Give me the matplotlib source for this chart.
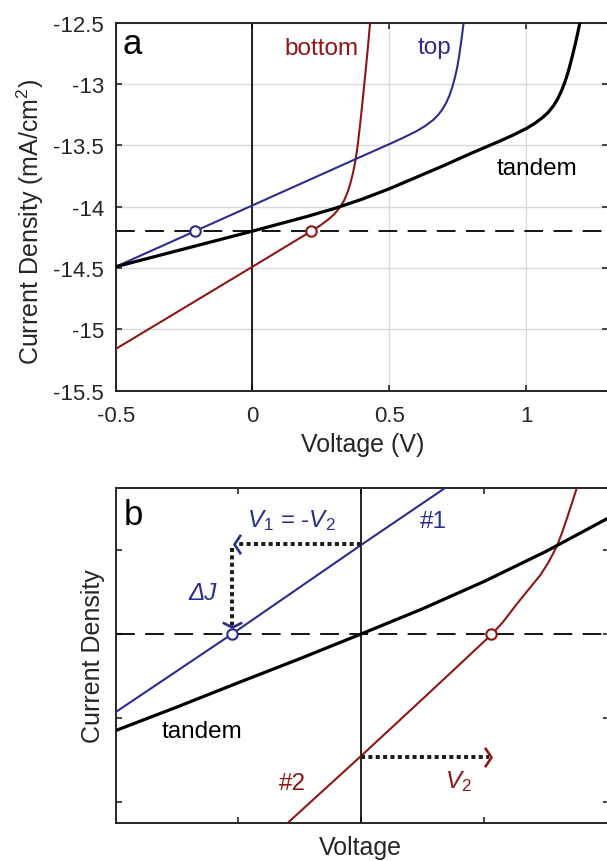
import matplotlib
matplotlib.use("Agg")
import matplotlib.pyplot as plt
from matplotlib.path import Path

# ---------------- data: panel a (J-V curves) ----------------
top_v = [-0.5, -0.21, 0.0, 0.2, 0.4, 0.504, 0.55, 0.60, 0.63, 0.66, 0.68, 0.695, 0.708,
         0.72, 0.73, 0.74, 0.748, 0.755, 0.762, 0.768, 0.772]
top_j = [-14.49, -14.20, -13.99, -13.79, -13.59, -13.487, -13.44, -13.385, -13.345, -13.295, -13.25,
         -13.205, -13.155, -13.095, -13.03, -12.95, -12.87, -12.78, -12.67, -12.57, -12.50]

bottom_v = [-0.5, 0.0, 0.215, 0.25, 0.28, 0.30, 0.32, 0.335, 0.348, 0.358, 0.367, 0.376,
            0.384, 0.392, 0.40, 0.408, 0.416, 0.423, 0.430]
bottom_j = [-15.16, -14.49, -14.20, -14.15, -14.10, -14.06, -14.005, -13.95, -13.88, -13.81, -13.73,
            -13.63, -13.51, -13.36, -13.195, -13.02, -12.84, -12.675, -12.50]

tandem_v = [-0.5, -0.25, 0.0, 0.2, 0.3, 0.4, 0.5, 0.6, 0.7, 0.8, 0.9, 0.95, 1.0, 1.03, 1.06,
            1.08, 1.1, 1.115, 1.13, 1.143, 1.155, 1.168, 1.18, 1.189, 1.197]
tandem_j = [-14.49, -14.345, -14.2, -14.08, -14.015, -13.94, -13.855, -13.76, -13.665, -13.565,
            -13.47, -13.42, -13.365, -13.325, -13.275, -13.235, -13.18, -13.125, -13.055, -12.98,
            -12.895, -12.785, -12.675, -12.585, -12.50]

match_j = -14.2
top_op_v = -0.21
bottom_op_v = 0.215

a_xticks = [-0.5, 0, 0.5, 1]
a_xticklabels = ["-0.5", "0", "0.5", "1"]
a_yticks = [-15.5, -15, -14.5, -14, -13.5, -13, -12.5]
a_yticklabels = ["-15.5", "-15", "-14.5", "-14", "-13.5", "-13", "-12.5"]

# ---------------- data: panel b (schematic) ----------------
b_tandem_x = [-2.0, -1.5, -1.0, -0.5, 0.0, 0.5, 1.0, 1.5, 2.01]
b_tandem_y = [-1.151, -0.87, -0.58, -0.295, 0.0, 0.30, 0.625, 0.98, 1.38]

b_one_x = [-2.0, -1.051, 0.0, 0.683]
b_one_y = [-0.932, 0.0, 1.06, 1.738]

b_two_x = [-0.604, 0.0, 0.5, 0.846, 1.063, 1.15, 1.266, 1.36, 1.455, 1.52, 1.56, 1.591,
           1.63, 1.672, 1.712, 1.753]
b_two_y = [-2.254, -1.448, -0.77, -0.298, 0.0, 0.14, 0.36, 0.53, 0.70, 0.85, 0.96, 1.051,
           1.20, 1.38, 1.56, 1.746]

v1 = -1.051          # operating voltage of cell #1
v2 = 1.054           # operating voltage of cell #2
dj_level = 1.071     # current of cell #1 at zero bias
v2_level = -1.46     # level of the V2 arrow

# ---------------- style ----------------
plt.rcParams["font.family"] = ["Liberation Sans", "DejaVu Sans"]
plt.rcParams["mathtext.fontset"] = "custom"
plt.rcParams["mathtext.rm"] = "Liberation Sans"
plt.rcParams["mathtext.it"] = "Liberation Sans:italic"
plt.rcParams["mathtext.bf"] = "Liberation Sans:bold"
plt.rcParams["lines.scale_dashes"] = False

RED = "#8E1616"
BLUE = "#2B2D8C"
AXC = "#262626"
GRID = "#D9D9D9"
TICK_FS = 16
LABEL_FS = 18
NOTE_FS = 17.5
THIN = 1.5
THICK = 2.3

W, H = 607, 862
fig = plt.figure(figsize=(W / 100, H / 100), dpi=100)


def px_axes(left, right, top, bottom):
    return fig.add_axes([left / W, 1 - bottom / H, (right - left) / W, (bottom - top) / H])


def style_axes(ax):
    for s in ax.spines.values():
        s.set_color(AXC)
        s.set_linewidth(1.4)
    ax.tick_params(direction="in", length=4, width=1.2, color=AXC,
                   top=True, right=True, labelsize=TICK_FS, labelcolor=AXC)
    ax.tick_params(axis="x", pad=10)
    ax.tick_params(axis="y", pad=8.5)


# chevron marker shapes for the arrow heads
chev_left = Path([(1, 1.5), (0, 0), (1, -1.5)], [Path.MOVETO, Path.LINETO, Path.LINETO])
chev_right = Path([(-1, 1.5), (0, 0), (-1, -1.5)], [Path.MOVETO, Path.LINETO, Path.LINETO])
chev_down = Path([(-1.6, 0.8), (0, 0), (1.6, 0.8)], [Path.MOVETO, Path.LINETO, Path.LINETO])

# ================= panel a =================
ax = px_axes(115.7, 608.1, 23.5, 391.7)
style_axes(ax)
ax.set_xlim(-0.5, 1.3)
ax.set_ylim(-15.5, -12.5)
ax.set_xticks(a_xticks)
ax.set_xticklabels(a_xticklabels)
ax.set_yticks(a_yticks)
ax.set_yticklabels(a_yticklabels)
ax.grid(True, color=GRID, linewidth=1.0, zorder=0)
ax.set_axisbelow(True)

ax.axvline(0, color="black", linewidth=1.2, zorder=2)
ax.axhline(match_j, color="black", linewidth=1.3, dashes=(13.5, 7.5), zorder=2)

ax.plot(bottom_v, bottom_j, color=RED, linewidth=THIN, zorder=3)
ax.plot(top_v, top_j, color=BLUE, linewidth=THIN, zorder=3)
ax.plot(tandem_v, tandem_j, color="black", linewidth=THICK, zorder=4)
ax.plot([top_op_v], [match_j], "o", ms=7.5, mfc="white", mec=BLUE, mew=1.5, zorder=5)
ax.plot([bottom_op_v], [match_j], "o", ms=7.5, mfc="white", mec=RED, mew=1.5, zorder=5)

ax.text(0.034, 0.916, "a", transform=ax.transAxes, fontsize=25, ha="center", va="baseline")
ax.text(0.254, -12.757, "bottom", color=RED, fontsize=NOTE_FS, ha="center", va="baseline")
ax.text(0.667, -12.751, "top", color=BLUE, fontsize=NOTE_FS, ha="center", va="baseline")
ax.text(1.04, -13.735, "tandem", color="black", fontsize=NOTE_FS, ha="center", va="baseline")

ax.set_xlabel("Voltage (V)", fontsize=LABEL_FS, color=AXC)
ax.xaxis.set_label_coords(0.502, -0.113)
ax.set_ylabel("Current Density (mA/cm$^2$)", fontsize=LABEL_FS, color=AXC)
ax.yaxis.set_label_coords(-0.142, 0.462)

# ================= panel b =================
bx = px_axes(115.5, 608.7, 488.7, 824.3)
style_axes(bx)
bx.set_xlim(-2.0, 2.01)
bx.set_ylim(-2.253, 1.738)
bx.set_xticks([-1, 0, 1])
bx.set_yticks([-2, -1, 0, 1])
bx.tick_params(labelleft=False, labelbottom=False)

bx.axvline(0, color="black", linewidth=1.2, zorder=2)
bx.axhline(0, color="black", linewidth=1.3, dashes=(13.5, 7.5), zorder=2)

bx.plot(b_one_x, b_one_y, color=BLUE, linewidth=THIN, zorder=3)
bx.plot(b_two_x, b_two_y, color=RED, linewidth=THIN, zorder=3)
bx.plot(b_tandem_x, b_tandem_y, color="black", linewidth=THICK, zorder=4)

# construction arrows: shift of #1 by V1 and of #2 by V2
dot = dict(color="#1a1a1a", linewidth=2.8, dashes=(2.9, 2.4), zorder=3)
bx.plot([0, v1 + 0.02], [dj_level, dj_level], **dot)
bx.plot([v1 - 0.005, v1 - 0.005], [dj_level - 0.05, 0.06], **dot)
bx.plot([0, v2 - 0.02], [v2_level, v2_level], **dot)

bx.plot([v1 + 0.013], [dj_level], marker=chev_left, ms=14, mfc="none", mec=BLUE, mew=1.9, zorder=5)
bx.plot([v1 - 0.005], [0.08], marker=chev_down, ms=14, mfc="none", mec=BLUE, mew=1.9, zorder=5)
bx.plot([v2], [v2_level], marker=chev_right, ms=14, mfc="none", mec=RED, mew=1.9, zorder=5)

bx.plot([v1], [0], "o", ms=7.5, mfc="white", mec=BLUE, mew=1.5, zorder=6)
bx.plot([v2], [0], "o", ms=7.5, mfc="white", mec=RED, mew=1.5, zorder=6)

bx.text(0.0365, 0.892, "b", transform=bx.transAxes, fontsize=25, ha="center", va="baseline")
bx.text(-0.569, 1.282, r"$\mathit{V_1}$ = -$\mathit{V_2}$", color=BLUE, fontsize=NOTE_FS,
        ha="center", va="baseline")
bx.text(-1.289, 0.417, "ΔJ", color=BLUE, fontsize=NOTE_FS, style="italic", ha="center", va="baseline")
bx.text(0.585, 1.27, "#1", color=BLUE, fontsize=NOTE_FS, ha="center", va="baseline")
bx.text(-1.293, -1.23, "tandem", color="black", fontsize=NOTE_FS, ha="center", va="baseline")
bx.text(-0.561, -1.845, "#2", color=RED, fontsize=NOTE_FS, ha="center", va="baseline")
bx.text(0.785, -1.825, r"$\mathit{V_2}$", color=RED, fontsize=NOTE_FS, ha="center", va="baseline")

bx.set_xlabel("Voltage", fontsize=LABEL_FS, color=AXC)
bx.xaxis.set_label_coords(0.497, -0.034)
bx.set_ylabel("Current Density", fontsize=LABEL_FS, color=AXC)
bx.yaxis.set_label_coords(-0.021, 0.5)

fig.savefig("out.png", dpi=100)
